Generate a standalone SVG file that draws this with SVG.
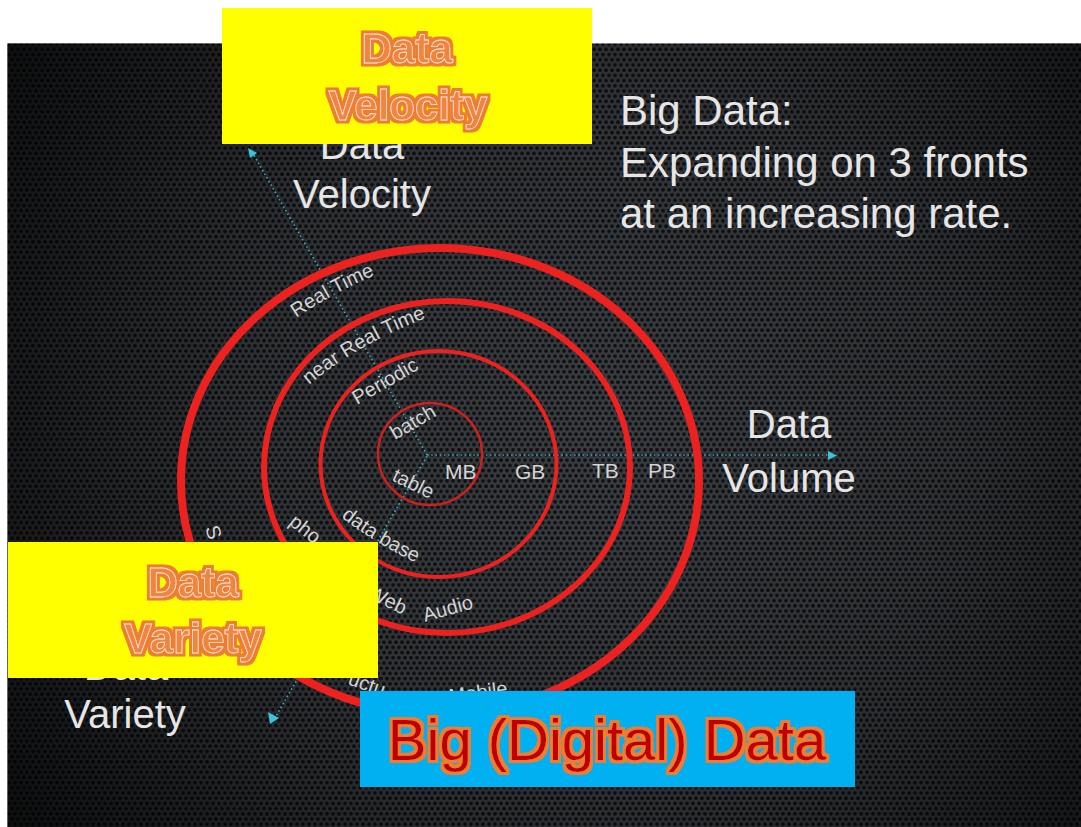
<svg xmlns="http://www.w3.org/2000/svg" width="1081" height="827" viewBox="0 0 1081 827">
<defs>
<pattern id="holes" width="6" height="10.4" patternUnits="userSpaceOnUse">
<rect width="6" height="10.4" fill="#3b3e42"/>
<circle cx="3" cy="2.6" r="1.9" fill="#0f1012"/>
<circle cx="0" cy="7.8" r="1.9" fill="#0f1012"/>
<circle cx="6" cy="7.8" r="1.9" fill="#0f1012"/>
</pattern>
<radialGradient id="vig" cx="600" cy="430" r="700" gradientUnits="userSpaceOnUse">
<stop offset="0" stop-color="#000" stop-opacity="0"/>
<stop offset="0.5" stop-color="#000" stop-opacity="0.2"/>
<stop offset="1" stop-color="#000" stop-opacity="0.75"/>
</radialGradient>
<filter id="outO" x="-5%" y="-25%" width="110%" height="150%">
<feMorphology in="SourceAlpha" operator="dilate" radius="2.5" result="d"/>
<feFlood flood-color="#ED7D31" result="f"/>
<feComposite in="f" in2="d" operator="in" result="o"/>
<feMerge><feMergeNode in="o"/><feMergeNode in="SourceGraphic"/></feMerge>
</filter>
<filter id="outB" x="-5%" y="-25%" width="110%" height="150%">
<feMorphology in="SourceAlpha" operator="dilate" radius="3" result="d"/>
<feFlood flood-color="#ED7D31" result="f"/>
<feComposite in="f" in2="d" operator="in" result="o"/>
<feMerge><feMergeNode in="o"/><feMergeNode in="SourceGraphic"/></feMerge>
</filter>
<path id="pRT" d="M296,318 Q336,291 380,273"/>
<path id="pNRT" d="M309,385 Q360,342 434,315"/>
<path id="pDB" d="M341,517 Q377,545 423,566"/>
<style>
.lbl{font-family:"Liberation Sans",Arial,sans-serif;font-size:20px;fill:#d4d4d4}
.unit{font-family:"Liberation Sans",Arial,sans-serif;font-size:21px;fill:#d4d4d4}
.axis{font-family:"Liberation Sans",Arial,sans-serif;font-size:40px;fill:#e6e6e6;text-anchor:middle}
.title{font-family:"Liberation Sans",Arial,sans-serif;font-size:42px;fill:#e6e6e6}
.ring{fill:none;stroke:#ec2220}
.dot{fill:none;stroke:#3da9b8;stroke-width:1.6;stroke-dasharray:1.6 2.6}
.head{fill:#3cc2da}
.wa{font-family:"Liberation Sans",Arial,sans-serif;font-weight:bold;font-size:42px;fill:#EE8640;stroke:#FDE3D0;stroke-width:0.8;text-anchor:middle;filter:url(#outO)}
.big{font-family:"Liberation Sans",Arial,sans-serif;font-size:58px;fill:#C00000;text-anchor:middle;filter:url(#outB)}
</style>
</defs>
<rect width="1081" height="827" fill="#ffffff"/>
<g id="background">
<rect x="7.5" y="43.5" width="1073.5" height="783.5" fill="url(#holes)"/>
<rect x="7.5" y="43.5" width="1073.5" height="783.5" fill="url(#vig)"/>
</g>
<g id="connectors">
<line class="dot" x1="427" y1="455" x2="252" y2="152"/>
<line class="dot" x1="427" y1="455" x2="828" y2="455"/>
<line class="dot" x1="427" y1="456" x2="276" y2="716"/>
<polygon class="head" points="248,148 257,153 250,158"/>
<polygon class="head" points="828,451 837,455.5 828,460"/>
<polygon class="head" points="268,712 279,718 270,724"/>
</g>
<g id="rings">
<ellipse class="ring" cx="440" cy="481" rx="259" ry="233" stroke-width="8"/>
<ellipse class="ring" cx="447" cy="467" rx="183" ry="166" stroke-width="6"/>
<ellipse class="ring" cx="438.5" cy="464" rx="118" ry="113" stroke-width="4"/>
<ellipse class="ring" cx="430" cy="454" rx="52" ry="51" stroke-width="2.5" style="stroke:#cc211e"/>
</g>
<g id="ring-labels">
<text class="lbl"><textPath href="#pRT">Real Time</textPath></text>
<text class="lbl"><textPath href="#pNRT">near Real Time</textPath></text>
<text class="lbl" x="357" y="405" transform="rotate(-30 357 405)">Periodic</text>
<text class="lbl" x="395" y="440" transform="rotate(-30 395 440)">batch</text>
<text class="lbl" x="391" y="480" transform="rotate(26 391 480)">table</text>
<text class="lbl"><textPath href="#pDB">data base</textPath></text>
<text class="lbl" x="288" y="524" transform="rotate(38 288 524)">pho</text>
<text class="lbl" x="205" y="528" transform="rotate(72 205 528)">S</text>
<text class="lbl" x="366" y="597" transform="rotate(26 366 597)">Web</text>
<text class="lbl" x="425" y="622" transform="rotate(-16 425 622)">Audio</text>
<text class="lbl" x="347" y="684" transform="rotate(20 347 684)">uctu</text>
<text class="lbl" x="450" y="703" transform="rotate(-8 450 703)">Mobile</text>
<text class="unit" x="445" y="479">MB</text>
<text class="unit" x="515" y="479">GB</text>
<text class="unit" x="592" y="478">TB</text>
<text class="unit" x="648" y="478">PB</text>
</g>
<g id="axis-velocity">
<text class="axis" x="362" y="159">Data</text>
<text class="axis" x="362" y="208">Velocity</text>
</g>
<g id="axis-volume">
<text class="axis" x="789" y="438">Data</text>
<text class="axis" x="789" y="492">Volume</text>
</g>
<g id="axis-variety">
<text class="axis" x="126" y="680">Data</text>
<text class="axis" x="125" y="728">Variety</text>
</g>
<g id="title">
<text class="title" x="620" y="125">Big Data:</text>
<text class="title" x="620" y="177">Expanding on 3 fronts</text>
<text class="title" x="620" y="228">at an increasing rate.</text>
</g>
<g id="box-velocity">
<rect x="222" y="8" width="370" height="136" fill="#ffff00"/>
<text class="wa" x="407" y="63">Data</text>
<text class="wa" x="408" y="120">Velocity</text>
</g>
<g id="box-variety">
<rect x="8" y="542" width="370" height="136" fill="#ffff00"/>
<text class="wa" x="193" y="597">Data</text>
<text class="wa" x="193" y="653">Variety</text>
</g>
<g id="box-bigdata">
<rect x="360" y="691" width="495" height="96" fill="#00b0f0"/>
<text class="big" x="607" y="760">Big (Digital) Data</text>
</g>
</svg>
